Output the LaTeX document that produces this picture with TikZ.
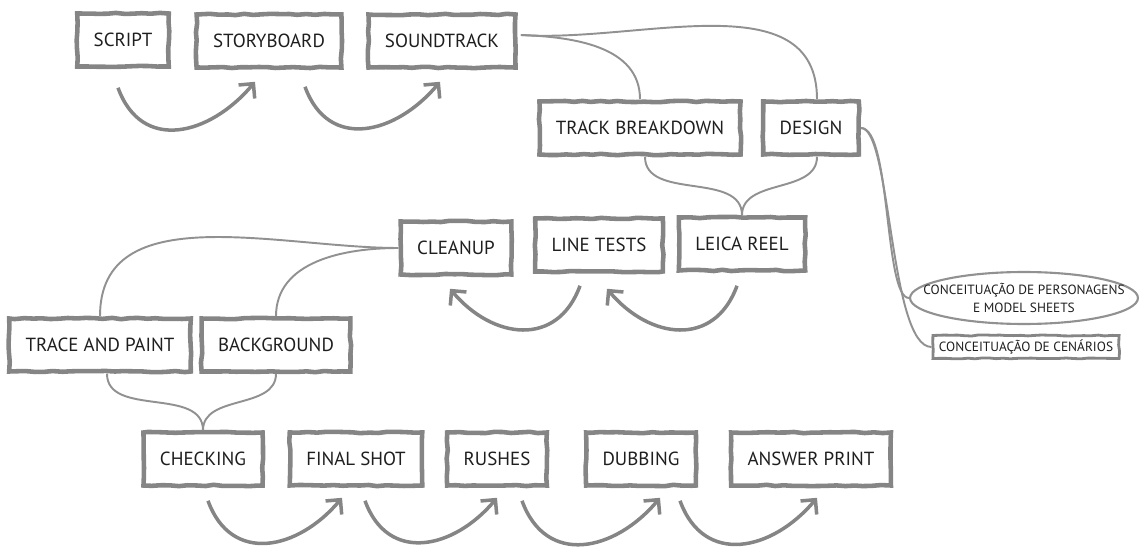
\documentclass[tikz,border=0pt]{standalone}
\usepackage{fontspec}
\setmainfont{PT Sans}
\usetikzlibrary{arrows.meta,calc,shapes.geometric,decorations.pathmorphing}

\definecolor{boxgray}{RGB}{133,133,133}
\definecolor{linegray}{RGB}{145,145,145}
\definecolor{inkgray}{RGB}{30,30,30}

\begin{document}
\pgfmathsetseed{11}
\begin{tikzpicture}
    [
        x=0.02cm, y=-0.02cm,
        stage/.style={draw=boxgray, line width=2.6pt, text=inkgray,
            minimum height=1.06cm, inner xsep=0.33cm,
            font=\fontsize{10.8}{12}\selectfont,
            decorate, decoration={random steps, segment length=5pt, amplitude=0.4pt}},
        note/.style={draw=boxgray, line width=1.6pt, text=inkgray,
            minimum height=0.46cm, inner xsep=0.12cm, inner ysep=0pt,
            font=\fontsize{7.6}{9.5}\selectfont,
            decorate, decoration={random steps, segment length=4pt, amplitude=0.3pt}},
        notellipse/.style={ellipse, draw=linegray, line width=1.2pt, text=inkgray,
            minimum width=4.56cm, minimum height=1.04cm,
            inner xsep=-1cm, inner ysep=-0.3cm, align=center,
            font=\fontsize{7.6}{10}\selectfont},
        branch/.style={draw=linegray, line width=1.1pt},
        flow/.style={draw=boxgray, line width=2pt,
            -{Straight Barb[length=6pt, width=12pt]}, looseness=1.3},
    ]

    \useasboundingbox (0,0) rectangle (1139,547);

    % first row
    \node (script)     at (123,40)  [stage] {SCRIPT};
    \node (storyboard) at (269,41)  [stage] {STORYBOARD};
    \node (soundtrack) at (442,41)  [stage] {SOUNDTRACK};

    \node (trackbd)    at (640,128) [stage] {TRACK BREAKDOWN};
    \node (design)     at (811,128) [stage] {DESIGN};

    % second row
    \node (cleanup)    at (456,248) [stage] {CLEANUP};
    \node (linetests)  at (599,245) [stage] {LINE TESTS};
    \node (leica)      at (742,244) [stage] {LEICA REEL};

    \node (tracepaint) at (100,345) [stage] {TRACE AND PAINT};
    \node (background) at (276,345) [stage] {BACKGROUND};

    % last row
    \node (checking)   at (203,459) [stage] {CHECKING};
    \node (finalshot)  at (356,459) [stage] {FINAL SHOT};
    \node (rushes)     at (497,459) [stage] {RUSHES};
    \node (dubbing)    at (641,459) [stage] {DUBBING};
    \node (answer)     at (811,459) [stage] {ANSWER PRINT};

    % design notes
    \node (characters) at (1024,298) [notellipse] {CONCEITUAÇÃO DE PERSONAGENS\\E MODEL SHEETS};
    \node (sets)       at (1026,347) [note] {CONCEITUAÇÃO DE CENÁRIOS};

    % forward arrows
    \draw [flow] ($(script.south)+(-5,19)$) to[out=-70,in=-130] ($(storyboard.south)+(-14,12)$);
    \draw [flow] ($(storyboard.south)+(36,17)$) to[out=-70,in=-130] ($(soundtrack.south)+(-2,12)$);
    \draw [flow] ($(checking.south)+(5,13)$) to[out=-70,in=-130] ($(finalshot.south)+(-14,10)$);
    \draw [flow] ($(finalshot.south)+(9,13)$) to[out=-70,in=-130] ($(rushes.south)+(0,10)$);
    \draw [flow] ($(rushes.south)+(25,13)$) to[out=-70,in=-130] ($(dubbing.south)+(19,10)$);
    \draw [flow] ($(dubbing.south)+(39,13)$) to[out=-70,in=-130] ($(answer.south)+(6,10)$);

    % backward arrows
    \draw [flow] ($(leica.south)+(-5,13)$) to[out=-110,in=-50] ($(linetests.south)+(8,15)$);
    \draw [flow] ($(linetests.south)+(-19,12)$) to[out=-110,in=-50] ($(cleanup.south)+(-6,12)$);

    % branches
    \draw [branch] ($(soundtrack.east)+(3,-6)$) to[out=-2,in=90] (trackbd.north);
    \draw [branch] ($(soundtrack.east)+(3,-6)$) to[out=-4,in=90] ($(design.north)+(6,0)$);
    \draw [branch] ($(trackbd.south)+(5,0)$) to[out=-90,in=90] (leica.north);
    \draw [branch] ($(design.south)+(6,0)$) to[out=-90,in=90] (leica.north);
    \draw [branch] (cleanup.west) to[out=180,in=90] (tracepaint.north);
    \draw [branch] (cleanup.west) to[out=180,in=90] (background.north);
    \draw [branch] ($(tracepaint.south)+(7,0)$) to[out=-90,in=90] (checking.north);
    \draw [branch] (background.south) to[out=-90,in=90] (checking.north);
    \draw [branch] (design.east) .. controls +(30,0) and +(-25,0) .. (characters.west);
    \draw [branch] (design.east) .. controls +(30,0) and +(-42,0) .. (sets.west);

\end{tikzpicture}
\end{document}
